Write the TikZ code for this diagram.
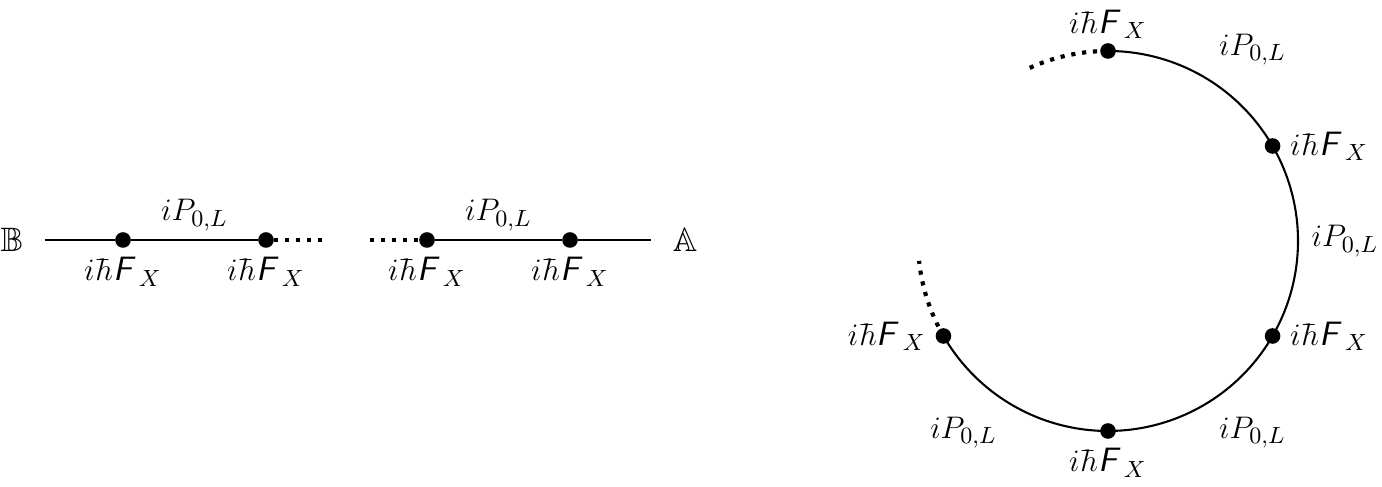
\documentclass[tikz,border=0pt]{standalone}
\usepackage{amsmath,amssymb}
\usepackage{fontspec}
\newfontfamily\slsans{lmsans10-regular.otf}[FakeSlant=0.2]
\usetikzlibrary{positioning}

\newcommand{\Fop}{i\hbar\text{\slsans F}_{\;X}}
\newcommand{\Pop}{iP_{0,L}}

\begin{document}
\begin{tikzpicture}[x=0.0135cm, y=0.0135cm, font=\fontsize{13}{15}\selectfont,
    dot/.style={circle, fill, inner sep=0pt, minimum size=6pt},
    letter/.style={inner sep=8pt},
    line/.style={line width=0.8pt},
    dots/.style={line width=1.6pt, dash pattern=on 1.6pt off 2.6pt}]
\useasboundingbox (0,0) rectangle (1382,487);

% open chain
\node[letter]                          (B)  at (12,247)  {$\mathbb{B}$};
\node[dot, label={below:$\Fop$}]       (l1) at (123,247) {};
\node[dot, label={below:$\Fop$}]       (l2) at (266,247) {};
\coordinate                            (e1) at (325,247);
\coordinate                            (e2) at (370,247);
\node[dot, label={below:$\Fop$}]       (l3) at (427,247) {};
\node[dot, label={below:$\Fop$}]       (l4) at (570,247) {};
\node[letter]                          (A)  at (685,247) {$\mathbb{A}$};

\draw[line] (B) -- (l1) -- (l2);
\draw[line] (l3) -- (l4) -- (A);
\draw[dots] (l2) -- (e1);
\draw[dots] (e2) -- (l3);
\path (l1) -- node[above] (p1) {$\Pop$} (l2);
\path (l3) -- node[above] (p2) {$\Pop$} (l4);

% ring
\coordinate (O) at (1108,246);
\node[dot, label={[label distance=-2pt]above:$\Fop$}] (c1) at ([shift={(90:190)}]O)  {};
\node[dot, label={right:$\Fop$}] (c2) at ([shift={(30:190)}]O)  {};
\node[dot, label={right:$\Fop$}] (c3) at ([shift={(-30:190)}]O) {};
\node[dot, label={below:$\Fop$}] (c4) at ([shift={(-90:190)}]O) {};
\node[dot, label={left:$\Fop$}]  (c5) at ([shift={(210:190)}]O) {};

\draw[line] (c1.center) arc[start angle=90, end angle=30, radius=2.565cm];
\draw[line] (c2.center) arc[start angle=30, end angle=-30, radius=2.565cm];
\draw[line] (c3.center) arc[start angle=-30, end angle=-90, radius=2.565cm];
\draw[line] (c4.center) arc[start angle=-90, end angle=-150, radius=2.565cm];
\draw[dots] (c1.center) arc[start angle=90, end angle=116, radius=2.565cm];
\draw[dots] (c5.center) arc[start angle=210, end angle=186, radius=2.565cm];

\node (q1) at ([shift={(53:240)}]O)  {$\Pop$};
\node (q2) at ([shift={(0:237)}]O)   {$\Pop$};
\node (q3) at ([shift={(-53:240)}]O) {$\Pop$};
\node (q4) at ([shift={(233:240)}]O) {$\Pop$};
\end{tikzpicture}
\end{document}
